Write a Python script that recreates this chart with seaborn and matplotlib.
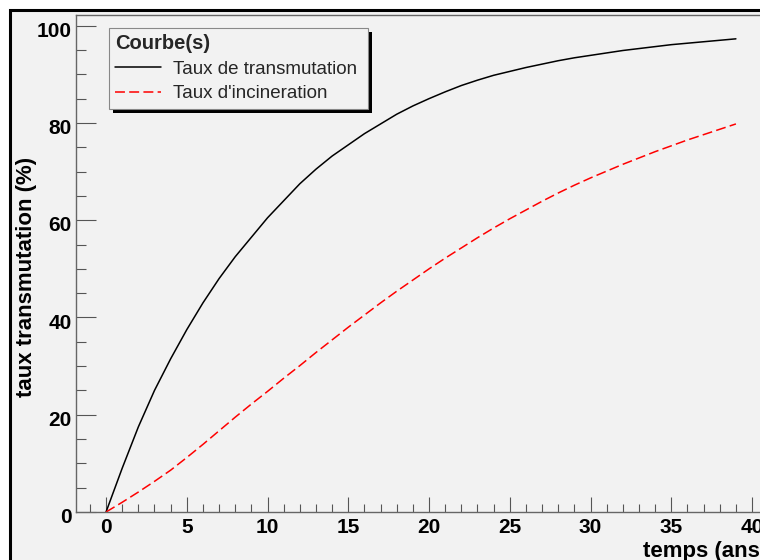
import numpy as np
import pandas as pd
import seaborn as sns
import matplotlib
matplotlib.use("Agg")
import matplotlib.pyplot as plt
from matplotlib.patches import Rectangle
from matplotlib.ticker import MultipleLocator
from matplotlib.transforms import ScaledTranslation

# Years after start
annees = list(range(0, 40))

# Transmutation rate (%) per year
taux_transmutation = [
    0.0, 9.0, 17.5, 25.0, 31.5, 37.5, 43.0, 48.0, 52.5, 56.5,
    60.5, 64.0, 67.5, 70.5, 73.2, 75.5, 77.8, 79.8, 81.8, 83.5,
    85.0, 86.4, 87.7, 88.8, 89.8, 90.6, 91.4, 92.1, 92.8, 93.4,
    93.9, 94.4, 94.9, 95.3, 95.7, 96.1, 96.4, 96.7, 97.0, 97.3,
]

# Incineration rate (%) per year
taux_incineration = [
    0.0, 2.0, 4.1, 6.3, 8.6, 11.2, 13.9, 16.7, 19.5, 22.2,
    24.8, 27.5, 30.1, 32.8, 35.4, 38.0, 40.5, 43.0, 45.4, 47.7,
    50.0, 52.2, 54.3, 56.4, 58.4, 60.3, 62.1, 63.9, 65.6, 67.2,
    68.7, 70.1, 71.5, 72.8, 74.1, 75.3, 76.5, 77.6, 78.7, 79.8,
]

legende_titre = "Courbe(s)"
label_transmutation = "Taux de transmutation"
label_incineration = "Taux d'incineration"
xlabel = "temps (ans)"
ylabel = "taux transmutation (%)"

sns.set_theme(style="ticks")
plt.rcParams["font.family"] = ["Liberation Sans", "DejaVu Sans"]

W, H = 760, 560
GRIS = "#f2f2f2"

fig = plt.figure(figsize=(W / 100, H / 100), dpi=100, facecolor="white")

# Canvas panel with its dark border
fig.patches.append(Rectangle((10 / W, -0.2), 1.2, (H - 10) / H + 0.2,
                             transform=fig.transFigure, facecolor=GRIS,
                             edgecolor="black", linewidth=2.2, zorder=-10))

ax = fig.add_axes([76 / W, 48 / H, 691.4 / W, 497 / H])
ax.set_facecolor(GRIS)

df = pd.DataFrame({
    "annee": annees,
    "transmutation": taux_transmutation,
    "incineration": taux_incineration,
})

sns.lineplot(data=df, x="annee", y="transmutation", ax=ax, color="black",
             linewidth=1.1, label=label_transmutation, errorbar=None)
sns.lineplot(data=df, x="annee", y="incineration", ax=ax, color="#ff0000",
             linewidth=1.1, linestyle=(0, (6.5, 2.8)),
             label=label_incineration, errorbar=None)

ax.set_xlim(-1.86, 40.95)
ax.set_ylim(0, 102.2)

ax.xaxis.set_major_locator(MultipleLocator(5))
ax.xaxis.set_minor_locator(MultipleLocator(1))
ax.yaxis.set_major_locator(MultipleLocator(20))
ax.yaxis.set_minor_locator(MultipleLocator(5))

tick_col = "#555555"
ax.tick_params(axis="x", which="major", direction="in", length=10.8,
               width=0.8, color=tick_col, pad=4.5, labelsize=15)
ax.tick_params(axis="x", which="minor", direction="in", length=5.8,
               width=0.8, color=tick_col)
ax.tick_params(axis="y", which="major", direction="in", length=14.4,
               width=0.8, color=tick_col, pad=3.0, labelsize=15)
ax.tick_params(axis="y", which="minor", direction="in", length=7.2,
               width=0.8, color=tick_col)
for lab in ax.get_xticklabels() + ax.get_yticklabels():
    lab.set_fontweight("bold")
    lab.set_color("black")
shift = ScaledTranslation(0, -2.6 / 72, fig.dpi_scale_trans)
for lab in ax.get_yticklabels():
    lab.set_transform(lab.get_transform() + shift)

for side in ["left", "bottom", "top", "right"]:
    ax.spines[side].set_color("#666666")
    ax.spines[side].set_linewidth(1.0)

ax.set_xlabel(xlabel, loc="right", fontsize=16, fontweight="bold",
              labelpad=3, color="black")
ax.set_ylabel(ylabel, fontsize=16, fontweight="bold", color="black")
ax.yaxis.set_label_coords((37 - 76) / 691.4, (512 - 277) / 497)

leg = ax.legend(
    title=legende_titre,
    loc="upper left",
    bbox_to_anchor=(109 / W, (H - 107) / H, 259 / W, 79 / H),
    bbox_transform=fig.transFigure,
    mode="expand",
    alignment="left",
    fontsize=13.5,
    title_fontproperties={"weight": "bold", "size": 14.5},
    frameon=True, fancybox=False, framealpha=1,
    facecolor=GRIS, edgecolor="#888888",
    borderpad=0.33, labelspacing=0.4,
    handlelength=2.45, handletextpad=0.65, borderaxespad=0,
)
leg.get_frame().set_linewidth(0.8)
leg.set_zorder(6)

# Drop shadow behind the legend box
fig.canvas.draw()
bb = leg.get_window_extent().transformed(ax.transAxes.inverted())
dx = 4 / 691.4
dy = 4 / 497
ax.add_patch(Rectangle((bb.x0 + dx, bb.y0 - dy), bb.width, bb.height,
                       transform=ax.transAxes, facecolor="black",
                       edgecolor="none", zorder=5.5, clip_on=False))

fig.savefig("out.png", dpi=100, facecolor="white")
